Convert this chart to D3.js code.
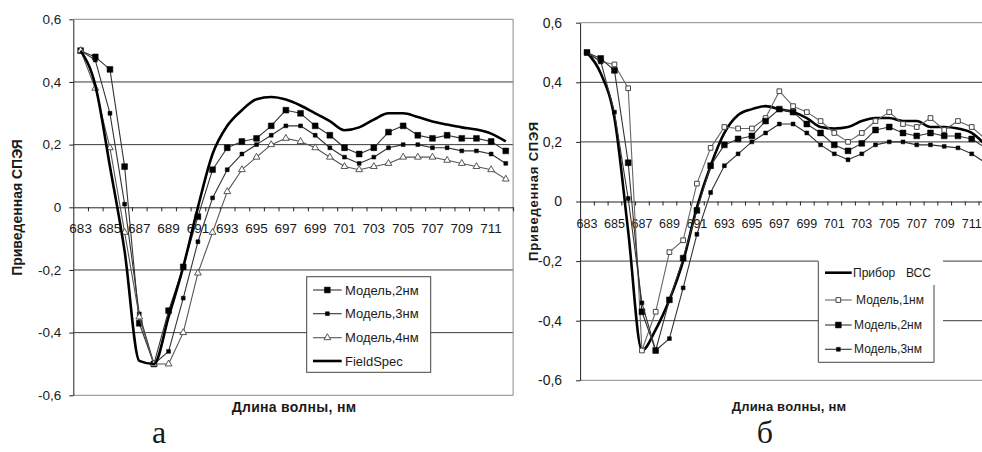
<!DOCTYPE html>
<html><head><meta charset="utf-8">
<script src="https://cdn.jsdelivr.net/npm/d3@7/dist/d3.min.js"></script>
<style>
html,body{margin:0;padding:0;background:#fff;}
svg{display:block;}
text{font-family:"Liberation Sans",Arial,sans-serif;fill:#1a1a1a;}
</style></head><body>
<svg id="chart" width="982" height="452"></svg>
<script>
// ---------- DATA ----------
const categories = [683,684,685,686,687,688,689,690,691,692,693,694,695,696,697,698,699,700,701,702,703,704,705,706,707,708,709,710,711,712];
const xTickLabels = [683,685,687,689,691,693,695,697,699,701,703,705,707,709,711];
const yTicks = [-0.6,-0.4,-0.2,0,0.2,0.4,0.6];

// panel а
const fieldSpecA = [0.50,0.39,0.13,-0.14,-0.49,-0.50,-0.35,-0.19,0.00,0.17,0.26,0.31,0.345,0.352,0.344,0.325,0.30,0.275,0.246,0.255,0.28,0.30,0.30,0.288,0.274,0.264,0.255,0.248,0.235,0.21];
const model2A   = [0.50,0.48,0.44,0.13,-0.37,-0.50,-0.33,-0.19,-0.03,0.12,0.19,0.21,0.22,0.26,0.31,0.30,0.26,0.23,0.19,0.17,0.19,0.24,0.26,0.23,0.22,0.23,0.22,0.22,0.21,0.18];
const model3A   = [0.50,0.47,0.30,0.01,-0.34,-0.50,-0.46,-0.29,-0.11,0.03,0.12,0.17,0.20,0.23,0.26,0.26,0.23,0.19,0.16,0.14,0.16,0.19,0.20,0.20,0.19,0.19,0.18,0.18,0.17,0.14];
const model4A   = [0.50,0.38,0.19,-0.08,-0.35,-0.50,-0.50,-0.40,-0.21,-0.08,0.05,0.12,0.16,0.20,0.22,0.21,0.19,0.16,0.13,0.12,0.13,0.14,0.16,0.16,0.16,0.15,0.14,0.13,0.12,0.09];
const legendA = ["Модель,2нм","Модель,3нм","Модель,4нм","FieldSpec"];

// panel б
const bccB    = [0.50,0.43,0.28,-0.10,-0.50,-0.43,-0.33,-0.20,-0.02,0.12,0.23,0.29,0.31,0.32,0.31,0.30,0.28,0.25,0.245,0.25,0.27,0.28,0.28,0.27,0.27,0.25,0.25,0.245,0.23,0.19];
const model1B = [0.50,0.47,0.46,0.38,-0.50,-0.37,-0.17,-0.13,0.06,0.18,0.25,0.245,0.245,0.28,0.37,0.32,0.30,0.27,0.23,0.20,0.23,0.27,0.30,0.26,0.25,0.28,0.24,0.27,0.25,0.21];
const model2B = [0.50,0.48,0.44,0.13,-0.37,-0.50,-0.33,-0.19,-0.03,0.12,0.19,0.21,0.22,0.27,0.31,0.30,0.26,0.23,0.19,0.17,0.195,0.24,0.25,0.23,0.22,0.23,0.22,0.22,0.21,0.18];
const model3B = [0.50,0.47,0.30,0.01,-0.34,-0.50,-0.46,-0.29,-0.11,0.03,0.12,0.16,0.20,0.23,0.26,0.26,0.23,0.19,0.16,0.14,0.16,0.19,0.20,0.20,0.19,0.19,0.185,0.18,0.16,0.13];
const legendB = ["Прибор","Модель,1нм","Модель,2нм","Модель,3нм"];
const legendBExtra = "ВСС";

const yTitle = "Приведенная СПЭЯ";
const xTitle = "Длина волны, нм";
const panelLetters = ["а","б"];

// ---------- DRAWING ----------
const svg = d3.select("#chart");
function fmt(d){ if (Math.abs(d)<1e-9) return "0"; return (d<0?"-":"")+Math.abs(d).toFixed(1).replace(".",","); }

const styles = {
  bigSq:   {line:"#333", lw:1.1, sym:d3.symbolSquare, size:34, fill:"#000", stroke:"#000", sw:0.5},
  smSq:    {line:"#333", lw:1.1, sym:d3.symbolSquare, size:15, fill:"#000", stroke:"#000", sw:0.5},
  tri:     {line:"#555", lw:1.1, sym:d3.symbolTriangle, size:20, fill:"#fff", stroke:"#444", sw:0.9},
  hollow:  {line:"#666", lw:1.1, sym:d3.symbolSquare, size:22, fill:"#fff", stroke:"#444", sw:1},
  thick:   {line:"#000", lw:2.6, sym:null, smooth:true}
};

function drawPanel(o, idx){
  const g = svg.append("g");
  const x = d3.scaleBand().domain(categories).range([o.left, o.left + o.band*categories.length]).padding(0);
  const y = d3.scaleLinear().domain([-0.6,0.6]).range([o.bottom, o.top]);
  const cx = c => x(c) + x.bandwidth()/2;

  // gridlines
  g.selectAll(".grid").data(yTicks.filter(t=>t!==0)).join("line")
    .attr("x1",o.left).attr("x2",o.gridRight)
    .attr("y1",d=>y(d)).attr("y2",d=>y(d))
    .attr("stroke",d=>(Math.abs(d)>0.5?"#8a8a8a":"#3a3a3a")).attr("stroke-width",1);
  if (o.border) {
    g.append("line").attr("x1",o.gridRight).attr("x2",o.gridRight).attr("y1",y(0.6)).attr("y2",y(-0.6))
      .attr("stroke","#8a8a8a");
  }

  // y axis
  const ya = g.append("g").attr("transform",`translate(${o.left},0)`)
    .call(d3.axisLeft(y).tickValues(yTicks).tickSize(4).tickSizeOuter(0).tickPadding(o.yPad).tickFormat(fmt));
  ya.select(".domain").attr("stroke","#222");
  ya.selectAll(".tick line").attr("stroke","#222");
  ya.selectAll("text").attr("font-size",o.yFont).attr("font-family","Liberation Sans, Arial, sans-serif").attr("fill","#1a1a1a");

  // x axis line + ticks at band boundaries
  const bx = d3.scaleLinear().domain([0,categories.length]).range([o.left, o.left+o.band*categories.length]);
  const xa = g.append("g").attr("transform",`translate(0,${y(0)})`)
    .call(d3.axisBottom(bx).tickValues(d3.range(1,categories.length+1)).tickSize(4).tickSizeOuter(0).tickFormat(""));
  xa.select(".domain").attr("stroke","#222");
  xa.selectAll(".tick line").attr("stroke","#222");
  // labels
  const xl = g.append("g").attr("transform",`translate(0,${y(0)})`)
    .call(d3.axisBottom(x).tickValues(xTickLabels).tickSize(0).tickSizeOuter(0));
  xl.select(".domain").remove();
  xl.selectAll("text").attr("y", o.xLabelY - y(0)).attr("dy",null).attr("dominant-baseline","central")
    .attr("font-size",o.xFont).attr("font-family","Liberation Sans, Arial, sans-serif").attr("fill","#1a1a1a");

  // titles
  svg.append("text").attr("transform",`translate(${o.yTitleX},${o.yTitleY}) rotate(-90)`)
    .attr("text-anchor","middle").attr("font-weight","bold").attr("font-size",o.titleFont)
    .attr("letter-spacing",o.yTitleLS).text(yTitle);
  svg.append("text").attr("x",o.xTitleX).attr("y",o.xTitleY).attr("text-anchor","middle")
    .attr("font-weight","bold").attr("font-size",o.titleFont).attr("letter-spacing",o.xTitleLS).text(xTitle);
  svg.append("text").attr("x",o.letterX).attr("y",o.letterY).attr("text-anchor","middle")
    .style("font-family","'Liberation Serif','Times New Roman',serif").attr("font-size",32).text(panelLetters[idx]);

  // series
  const clipId = "clip"+idx;
  svg.append("clipPath").attr("id",clipId).append("rect")
    .attr("x",o.left).attr("y",o.top-10).attr("width",o.gridRight-o.left).attr("height",o.bottom-o.top+20);
  const sg = g.append("g").attr("clip-path",`url(#${clipId})`);
  o.series.forEach(s=>{
    const st = styles[s.style];
    const pts = categories.map((c,i)=>({c, v:s.values[i]}));
    const line = d3.line().x(d=>cx(d.c)).y(d=>y(d.v));
    if (st.smooth) line.curve(d3.curveMonotoneX);
    sg.append("path").datum(pts).attr("d",line).attr("fill","none")
      .attr("stroke",st.line).attr("stroke-width",st.lw).attr("stroke-linejoin","round");
    if (st.sym){
      sg.selectAll(null).data(pts).join("path")
        .attr("transform",d=>`translate(${cx(d.c)},${y(d.v)})`)
        .attr("d",d3.symbol().type(st.sym).size(st.size))
        .attr("fill",st.fill).attr("stroke",st.stroke).attr("stroke-width",st.sw);
    }
  });

  // legend
  const L = o.legend;
  const lg = svg.append("g");
  if (L.box === "full") {
    lg.append("rect").attr("x",L.x).attr("y",L.y).attr("width",L.w).attr("height",L.h)
      .attr("fill","#fff").attr("stroke","#444").attr("stroke-width",1);
  } else {
    lg.append("rect").attr("x",L.x).attr("y",L.y-3).attr("width",L.w+9).attr("height",L.h+3).attr("fill","#fff");
    lg.append("path").attr("d",`M${L.x},${L.y} V${L.y+L.h} H${L.x+L.w} V${L.y+L.rightTop}`)
      .attr("fill","none").attr("stroke","#444").attr("stroke-width",1);
  }
  L.labels.forEach((lab,i)=>{
    const st = styles[o.series[i].style];
    const yy = L.rows[i];
    lg.append("line").attr("x1",L.sx1).attr("x2",L.sx2).attr("y1",yy).attr("y2",yy)
      .attr("stroke",st.line).attr("stroke-width",st.lw);
    if (st.sym){
      lg.append("path").attr("transform",`translate(${(L.sx1+L.sx2)/2},${yy})`)
        .attr("d",d3.symbol().type(st.sym).size(st.size))
        .attr("fill",st.fill).attr("stroke",st.stroke).attr("stroke-width",st.sw);
    }
    lg.append("text").attr("x",L.tx[i]).attr("y",yy).attr("dominant-baseline","central")
      .attr("font-size",L.font).text(lab);
  });
  if (L.extra){
    lg.append("text").attr("x",L.extra.x).attr("y",L.rows[0]).attr("dominant-baseline","central")
      .attr("font-size",L.font).text(L.extra.text);
  }
}

drawPanel({
  left:73.3, band:14.66, top:19.3, bottom:395.3, gridRight:513.1, border:true,
  yPad:8, yFont:13.5, xFont:13.5, xLabelY:228.5,
  yTitleX:21.5, yTitleY:207.5, yTitleLS:0, titleFont:14,
  xTitleX:294, xTitleY:412, xTitleLS:0.3,
  letterX:159, letterY:443,
  series:[
    {values:model2A, style:"bigSq"},
    {values:model3A, style:"smSq"},
    {values:model4A, style:"tri"},
    {values:fieldSpecA, style:"thick"}
  ],
  legend:{box:"full", x:306.7, y:276.7, w:124, h:95.6, rows:[290,313.7,337.7,361],
          sx1:313, sx2:341.7, tx:[345,345,345,345], font:13, labels:legendA}
},0);

drawPanel({
  left:580.1, band:13.74, top:22.7, bottom:380.3, gridRight:1000, border:false,
  yPad:14, yFont:14, xFont:12.5, xLabelY:224,
  yTitleX:538, yTitleY:191, yTitleLS:0.8, titleFont:13,
  xTitleX:789, xTitleY:411, xTitleLS:0.2,
  letterX:765, letterY:443,
  series:[
    {values:bccB, style:"thick"},
    {values:model1B, style:"hollow"},
    {values:model2B, style:"bigSq"},
    {values:model3B, style:"smSq"}
  ],
  legend:{box:"partial", x:818.3, y:261.5, w:115.7, h:100.8, rightTop:23.5, rows:[272.7,300,325,349.3],
          sx1:825, sx2:851.7, tx:[853,856,854,854], font:12, labels:legendB,
          extra:{x:906, text:legendBExtra}}
},1);
</script>
</body></html>
